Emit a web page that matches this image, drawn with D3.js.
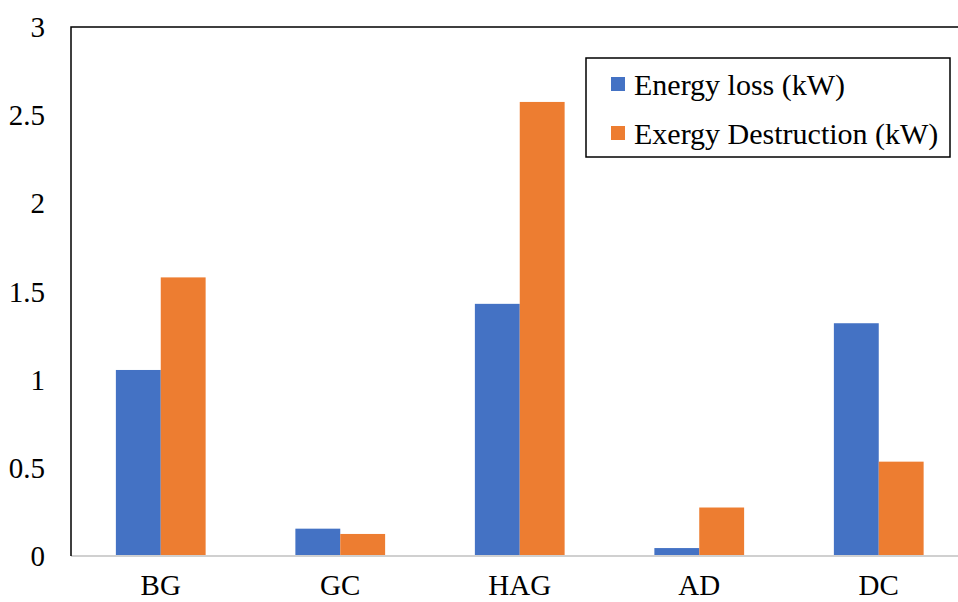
<!DOCTYPE html>
<html>
<head>
<meta charset="utf-8">
<script src="https://cdn.jsdelivr.net/npm/d3@7"></script>
<style>
  body { margin: 0; background: #fff; }
  text { font-family: "Liberation Serif", "Times New Roman", serif; }
</style>
</head>
<body>
<svg id="chart" width="958" height="602"></svg>
<script>
const categories = ["BG", "GC", "HAG", "AD", "DC"];
const seriesNames = ["Energy loss (kW)", "Exergy Destruction (kW)"];
const energyLoss = [1.055, 0.155, 1.43, 0.045, 1.32];
const exergyDestruction = [1.58, 0.125, 2.575, 0.275, 0.535];
const yTicks = [0, 0.5, 1, 1.5, 2, 2.5, 3];
const colors = ["#4472C4", "#ED7D31"];

const width = 958;
const height = 602;
const margin = { top: 27, right: -10.5, bottom: 46, left: 71 };

const svg = d3.select("#chart");

const x = d3
  .scaleBand()
  .domain(categories)
  .range([margin.left, width - margin.right])
  .paddingInner(0.5)
  .paddingOuter(0.25);

const xSub = d3
  .scaleBand()
  .domain(seriesNames)
  .range([0, x.bandwidth()]);

const y = d3
  .scaleLinear()
  .domain([0, 3])
  .range([height - margin.bottom, margin.top]);

const series = [energyLoss, exergyDestruction];

// bars
categories.forEach((cat, i) => {
  series.forEach((vals, s) => {
    svg
      .append("rect")
      .attr("x", x(cat) + xSub(seriesNames[s]))
      .attr("y", y(vals[i]))
      .attr("width", xSub.bandwidth())
      .attr("height", y(0) - y(vals[i]))
      .attr("fill", colors[s]);
  });
});

// x axis line (grey)
svg
  .append("line")
  .attr("x1", margin.left)
  .attr("x2", width)
  .attr("y1", y(0))
  .attr("y2", y(0))
  .attr("stroke", "#d0d0d0")
  .attr("stroke-width", 2);

// plot border: left and top
svg
  .append("path")
  .attr("d", `M${margin.left},${y(0)}V${margin.top}H${width}`)
  .attr("fill", "none")
  .attr("stroke", "#000")
  .attr("stroke-width", 1.5);

// y tick labels
svg
  .selectAll(".ytick")
  .data(yTicks)
  .enter()
  .append("text")
  .attr("class", "ytick")
  .attr("x", 45)
  .attr("y", (d) => y(d))
  .attr("dy", "0.35em")
  .attr("text-anchor", "end")
  .style("font-size", "29px")
  .text((d) => d);

// x labels
svg
  .selectAll(".xlabel")
  .data(categories)
  .enter()
  .append("text")
  .attr("class", "xlabel")
  .attr("x", (d) => x(d) + x.bandwidth() / 2)
  .attr("y", 595)
  .attr("text-anchor", "middle")
  .style("font-size", "29px")
  .text((d) => d);

// legend
const legend = svg.append("g").attr("transform", "translate(586,58)");
legend
  .append("rect")
  .attr("width", 364)
  .attr("height", 99)
  .attr("fill", "#fff")
  .attr("stroke", "#000")
  .attr("stroke-width", 1.5);

seriesNames.forEach((name, s) => {
  const ly = 26 + s * 49;
  legend
    .append("rect")
    .attr("x", 25)
    .attr("y", ly - 7)
    .attr("width", 14)
    .attr("height", 14)
    .attr("fill", colors[s]);
  legend
    .append("text")
    .attr("x", 48)
    .attr("y", ly)
    .attr("dy", "0.35em")
    .style("font-size", "30px")
    .text(name);
});
</script>
</body>
</html>
